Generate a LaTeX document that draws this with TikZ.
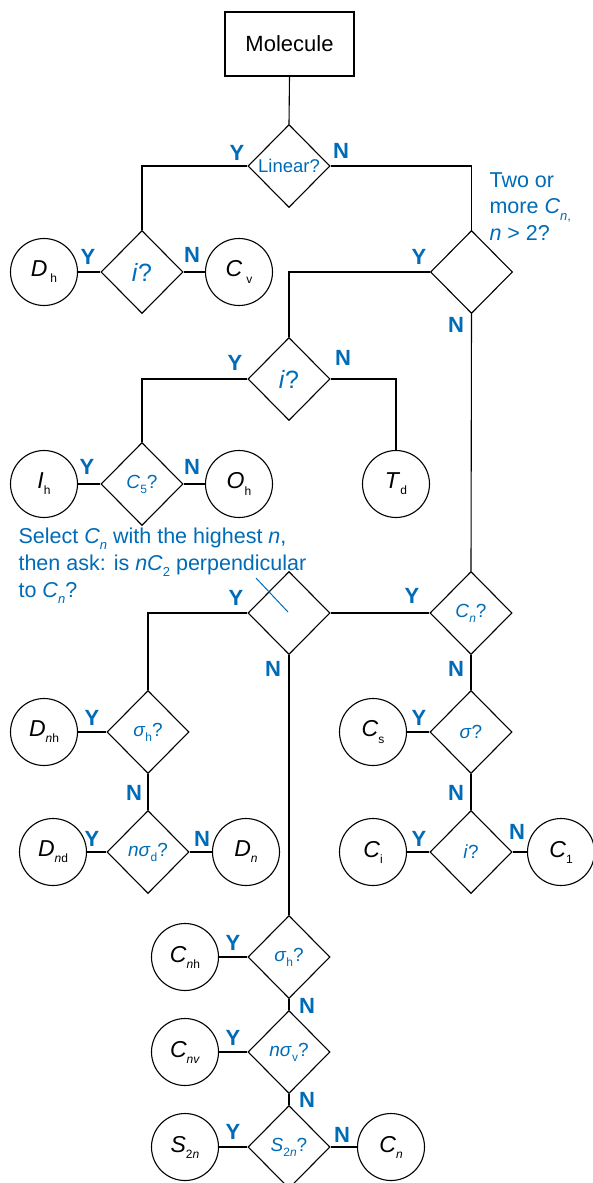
\documentclass[tikz,border=0pt]{standalone}
\usepackage{fontspec}
\setmainfont{Liberation Sans}
\usetikzlibrary{shapes.geometric}
\definecolor{qblue}{RGB}{0,107,182}
\newcommand{\lsub}[1]{\raisebox{-0.5ex}{\fontsize{12}{12}\selectfont #1}}
\newcommand{\nsub}[1]{\raisebox{-0.6ex}{\fontsize{13}{13}\selectfont #1}}
\begin{document}
\begin{tikzpicture}[x=1pt,y=-1pt,
  line width=1.1pt,
  dia/.style={draw, diamond, aspect=1, minimum width=82pt, minimum height=83pt, inner sep=0pt, text=qblue, font=\fontsize{19}{20}\selectfont},
  bigq/.style={font=\fontsize{25}{26}\selectfont},
  res/.style={draw, circle, minimum size=67pt, inner sep=0pt, font=\fontsize{23}{24}\selectfont},
  yn/.style={text=qblue, font=\fontsize{22}{22}\selectfont\bfseries, inner sep=0pt},
  note/.style={text=qblue, font=\fontsize{21.5}{22}\selectfont, inner sep=0pt, anchor=base west},
]
\useasboundingbox (0,0) rectangle (593,1183);

% nodes
\node[draw, minimum width=129pt, minimum height=64pt, font=\fontsize{22}{23}\selectfont] (mol) at (289.5,44) {Molecule};
\node[dia, font=\fontsize{18.5}{20}\selectfont] (lin) at (289,166) {Linear?};
\node[dia, bigq] (i1) at (142,272) {\textit{i}?};
\node[res] (dh) at (44,272) {\textit{D}\kern3pt\lsub{h}};
\node[res] (cv) at (239,272) {\textit{C}\kern4pt\lsub{v}};
\node[dia] (two) at (471.5,272) {};
\node[dia, bigq] (i2) at (289,379) {\textit{i}?};
\node[dia] (c5) at (142,484) {\textit{C}\lsub{5}?};
\node[res] (ih) at (44,484) {\textit{I}\lsub{h}};
\node[res] (oh) at (239,484) {\textit{O}\lsub{h}};
\node[res] (td) at (396,484) {\textit{T}\lsub{d}};
\node[dia] (perp) at (289,613) {};
\node[dia] (cn) at (471,613) {\textit{C}\lsub{\textit{n}}?};
\node[dia] (sh1) at (148,732) {\textit{σ}\lsub{h}?};
\node[res] (dnh) at (44,732) {\textit{D}\lsub{\textit{n}h}};
\node[dia] (nsd) at (148,852) {\textit{nσ}\lsub{d}?};
\node[res] (dnd) at (53,852) {\textit{D}\lsub{\textit{n}d}};
\node[res] (dn) at (246,852) {\textit{D}\lsub{\textit{n}}};
\node[dia] (sig) at (471,732) {\textit{σ}?};
\node[res] (cs) at (373,732) {\textit{C}\lsub{s}};
\node[dia] (i3) at (471,852) {\textit{i}?};
\node[res] (ci) at (373,852) {\textit{C}\lsub{i}};
\node[res] (c1) at (561,852) {\textit{C}\lsub{1}};
\node[dia] (sh2) at (289,957) {\textit{σ}\lsub{h}?};
\node[res] (cnh) at (185,957) {\textit{C}\lsub{\textit{n}h}};
\node[dia] (nsv) at (289,1052) {\textit{nσ}\lsub{v}?};
\node[res] (cnv) at (185,1052) {\textit{C}\lsub{\textit{nv}}};
\node[dia] (s2n) at (289,1147) {\textit{S}\lsub{2\textit{n}}?};
\node[res] (s2) at (185,1147) {\textit{S}\lsub{2\textit{n}}};
\node[res] (cnn) at (391,1147) {\textit{C}\lsub{\textit{n}}};

% connectors
\draw (mol.south) -- (lin.north);
\draw (lin.west) -| (i1.north);
\draw (lin.east) -| (two.north);
\draw (dh) -- (i1.west);
\draw (i1.east) -- (cv);
\draw (two.west) -| (i2.north);
\draw (two.south) -- (cn.north);
\draw (i2.west) -| (c5.north);
\draw (i2.east) -| (td.north);
\draw (ih) -- (c5.west);
\draw (c5.east) -- (oh);
\draw (perp.east) -- (cn.west);
\draw (perp.west) -| (sh1.north);
\draw (perp.south) -- (sh2.north);
\draw (dnh) -- (sh1.west);
\draw (sh1.south) -- (nsd.north);
\draw (dnd) -- (nsd.west);
\draw (nsd.east) -- (dn);
\draw (cn.south) -- (sig.north);
\draw (cs) -- (sig.west);
\draw (sig.south) -- (i3.north);
\draw (ci) -- (i3.west);
\draw (i3.east) -- (c1);
\draw (cnh) -- (sh2.west);
\draw (sh2.south) -- (nsv.north);
\draw (cnv) -- (nsv.west);
\draw (nsv.south) -- (s2n.north);
\draw (s2) -- (s2n.west);
\draw (s2n.east) -- (cnn);

% slash on perpendicular diamond
\draw[qblue, line width=1pt] ([shift={(-33,-35)}]perp.center) -- ([shift={(-1,-1)}]perp.center);

% Y / N labels
\node[yn] (y1) at (237,153) {Y};
\node[yn] (n1) at (341,151) {N};
\node[yn] (y2) at (88,257) {Y};
\node[yn] (n2) at (192,255) {N};
\node[yn] (y3) at (419,257) {Y};
\node[yn] (n3) at (456,325) {N};
\node[yn] (y4) at (235,363) {Y};
\node[yn] (n4) at (343,358) {N};
\node[yn] (y5) at (87,467) {Y};
\node[yn] (n5) at (192,467) {N};
\node[yn] (y6) at (236,598) {Y};
\node[yn] (y7) at (412,596) {Y};
\node[yn] (n6) at (273,669) {N};
\node[yn] (n7) at (456,669) {N};
\node[yn] (y8) at (92,718) {Y};
\node[yn] (n8) at (134,793) {N};
\node[yn] (y9) at (92,839) {Y};
\node[yn] (n9) at (202,839) {N};
\node[yn] (y10) at (419,718) {Y};
\node[yn] (n10) at (456,793) {N};
\node[yn] (y11) at (419,839) {Y};
\node[yn] (n11) at (517,832) {N};
\node[yn] (y12) at (233,943) {Y};
\node[yn] (n12) at (307,1006) {N};
\node[yn] (y13) at (233,1038) {Y};
\node[yn] (n13) at (307,1100) {N};
\node[yn] (y14) at (233,1132) {Y};
\node[yn] (n14) at (342,1135) {N};

% notes
\node[note] (t1) at (489,187) {Two or};
\node[note] (t2) at (489,213.5) {more \textit{C}\nsub{\textit{n},}};
\node[note] (t3) at (489,240) {\textit{n} > 2?};
\node[note] (s1) at (18,543) {Select \textit{C}\nsub{\textit{n}} with the highest \textit{n},};
\node[note] (s2l) at (18,570) {then ask: is \textit{nC}\nsub{2} perpendicular};
\node[note] (s3) at (18,597) {to \textit{C}\nsub{\textit{n}}?};
\end{tikzpicture}
\end{document}
